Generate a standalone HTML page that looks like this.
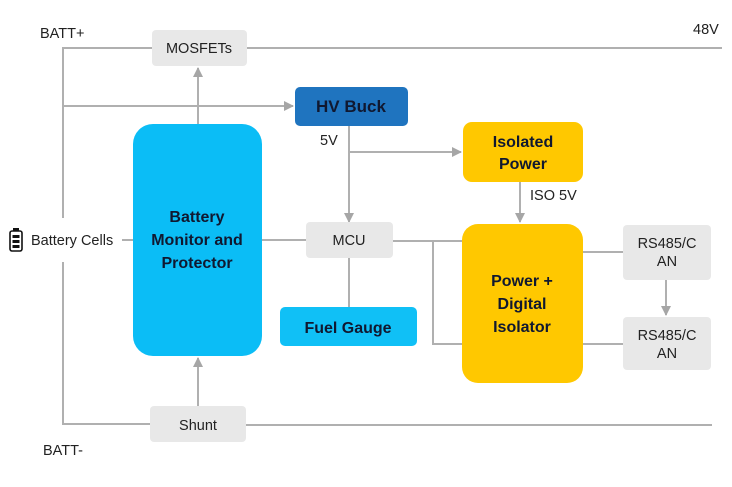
<!DOCTYPE html>
<html><head><meta charset="utf-8"><style>
html,body{margin:0;padding:0;background:#fff;width:732px;height:487px;overflow:hidden}
svg{display:block}
.l{font-family:"Liberation Sans",sans-serif;font-size:14.5px;fill:#222}
.b{font-family:"Liberation Sans",sans-serif;font-weight:bold;font-size:16px;fill:#101830;text-anchor:middle}
.g{font-family:"Liberation Sans",sans-serif;font-size:14.5px;fill:#222;text-anchor:middle}
</style></head><body>
<svg width="732" height="487" viewBox="0 0 732 487">
<defs><marker id="a" markerWidth="10" markerHeight="10" refX="9" refY="5" orient="auto" markerUnits="userSpaceOnUse"><path d="M0,0 L10,5 L0,10 Z" fill="#a6a6a6"/></marker></defs>
<g stroke="#b0b0b0" stroke-width="2" fill="none">
<path d="M63,218 V48 H152"/><path d="M247,48 H722"/>
<path d="M63,106 H293" marker-end="url(#a)"/>
<path d="M63,262 V424 H150"/><path d="M246,425 H712"/>
<path d="M198,124 V68" marker-end="url(#a)"/>
<path d="M198,406 V358" marker-end="url(#a)"/>
<path d="M349,126 V222" marker-end="url(#a)"/>
<path d="M349,152 H461" marker-end="url(#a)"/>
<path d="M520,182 V222" marker-end="url(#a)"/>
<path d="M122,240 H133"/><path d="M262,240 H306"/>
<path d="M393,241 H462"/><path d="M433,241 V344 H462"/>
<path d="M349,258 V307"/>
<path d="M583,252 H623"/><path d="M583,344 H623"/>
<path d="M666,280 V315" marker-end="url(#a)"/>
</g>
<text class="l" x="40" y="38">BATT+</text>
<text class="l" x="693" y="34">48V</text>
<text class="l" x="43" y="455">BATT-</text>
<text class="l" x="320" y="145">5V</text>
<text class="l" x="530" y="200">ISO 5V</text>
<rect x="152" y="30" width="95" height="36" rx="4" fill="#e8e8e8"/>
<text class="g" x="199" y="53">MOSFETs</text>
<rect x="295" y="87" width="113" height="39" rx="5" fill="#1f74bf"/>
<text class="b" x="351" y="112" style="font-size:17px">HV Buck</text>
<rect x="133" y="124" width="129" height="232" rx="20" fill="#0bbdf6"/>
<text class="b" x="197" y="222">Battery</text>
<text class="b" x="197" y="245">Monitor and</text>
<text class="b" x="197" y="268">Protector</text>
<rect x="463" y="122" width="120" height="60" rx="9" fill="#ffc800"/>
<text class="b" x="523" y="147">Isolated</text>
<text class="b" x="523" y="169">Power</text>
<rect x="306" y="222" width="87" height="36" rx="4" fill="#e8e8e8"/>
<text class="g" x="349" y="245">MCU</text>
<rect x="280" y="307" width="137" height="39" rx="5" fill="#10c0f6"/>
<text class="b" x="348" y="333">Fuel Gauge</text>
<rect x="462" y="224" width="121" height="159" rx="16" fill="#ffc800"/>
<text class="b" x="522" y="286">Power +</text>
<text class="b" x="522" y="309">Digital</text>
<text class="b" x="522" y="332">Isolator</text>
<rect x="623" y="225" width="88" height="55" rx="4" fill="#e8e8e8"/>
<text class="g" x="667" y="248">RS485/C</text><text class="g" x="667" y="266">AN</text>
<rect x="623" y="317" width="88" height="53" rx="4" fill="#e8e8e8"/>
<text class="g" x="667" y="340">RS485/C</text><text class="g" x="667" y="358">AN</text>
<rect x="150" y="406" width="96" height="36" rx="4" fill="#e8e8e8"/>
<text class="g" x="198" y="430">Shunt</text>
<text class="l" x="31" y="245">Battery Cells</text>
<g fill="none" stroke="#111" stroke-width="1.6"><rect x="10" y="231" width="12" height="20" rx="2"/></g>
<rect x="13" y="228" width="6" height="3" fill="#111"/>
<rect x="12.5" y="235" width="7" height="3" fill="#111"/><rect x="12.5" y="240" width="7" height="3" fill="#111"/><rect x="12.5" y="245" width="7" height="3" fill="#111"/>
</svg>
</body></html>
